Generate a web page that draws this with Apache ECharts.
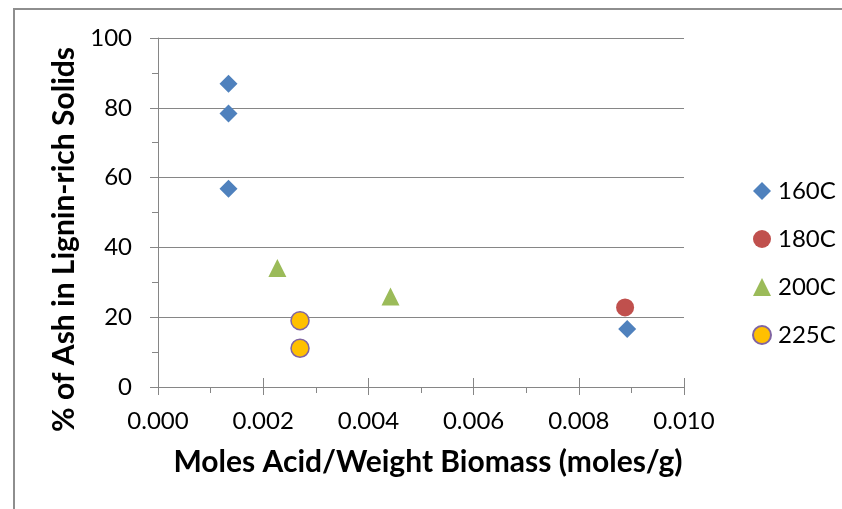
<!DOCTYPE html>
<html>
<head>
<meta charset="utf-8">
<script src="https://cdn.jsdelivr.net/npm/echarts@6/dist/echarts.min.js"></script>
<style>html,body{margin:0;padding:0;background:#fff;}#c{width:842px;height:509px;}</style>
</head>
<body>
<div id="c"></div>
<script>
const seriesNames = ['160C', '180C', '200C', '225C'];
const x160 = [0.00134, 0.00134, 0.00134, 0.00892];
const y160 = [86.9, 78.4, 56.8, 16.6];
const x180 = [0.00888];
const y180 = [22.8];
const x200 = [0.00227, 0.00442];
const y200 = [34.1, 25.9];
const x225 = [0.00270, 0.00270];
const y225 = [19.0, 11.1];
const xTitle = 'Moles Acid/Weight Biomass (moles/g)';
const yTitle = '% of Ash in Lignin-rich Solids';

const pairs = (xs, ys) => xs.map((v, i) => [v, ys[i]]);
const axisCol = '#868686';
const font = 'Lato';

const chart = echarts.init(document.getElementById('c'));
chart.setOption({
  animation: false,
  backgroundColor: '#fff',
  graphic: [{
    type: 'rect', silent: true, z: -1,
    shape: { x: 14, y: 9, width: 1000, height: 1000 },
    style: { fill: 'none', stroke: '#8e8e8e', lineWidth: 2 }
  }],
  grid: { left: 158, right: 158, top: 38, bottom: 122 },
  xAxis: [{
    type: 'value', min: 0, max: 0.01, interval: 0.002,
    axisLine: { show: true, lineStyle: { color: axisCol, width: 1 } },
    axisTick: { show: true, length: 8, lineStyle: { color: axisCol } },
    minorTick: { show: true, splitNumber: 2, length: 6, lineStyle: { color: axisCol } },
    splitLine: { show: false },
    axisLabel: { margin: 22, color: '#000', fontFamily: font, fontSize: 24, formatter: v => v.toFixed(3) },
    name: xTitle, nameLocation: 'middle', nameGap: 60,
    nameTextStyle: { color: '#000', fontFamily: font, fontWeight: 'bold', fontSize: 30, padding: [0, 0, 0, 14] }
  }, {
    type: 'value', min: 0, max: 0.01, interval: 0.002, position: 'bottom',
    axisLine: { show: false },
    axisTick: { show: true, inside: true, length: 9, lineStyle: { color: axisCol } },
    axisLabel: { show: false }, splitLine: { show: false }
  }],
  yAxis: {
    type: 'value', min: 0, max: 100, interval: 20,
    axisLine: { show: true, lineStyle: { color: axisCol, width: 1 } },
    axisTick: { show: true, length: 8, lineStyle: { color: axisCol } },
    minorTick: { show: true, splitNumber: 2, length: 6, lineStyle: { color: axisCol } },
    splitLine: { show: true, lineStyle: { color: axisCol, width: 1 } },
    axisLabel: { margin: 26, color: '#000', fontFamily: font, fontSize: 24 },
    name: yTitle, nameLocation: 'middle', nameGap: 79,
    nameTextStyle: { color: '#000', fontFamily: font, fontWeight: 'bold', fontSize: 30, padding: [0, 54, 0, 0] }
  },
  legend: {
    orient: 'vertical', left: 752, top: 179, itemGap: 24, padding: 0,
    itemWidth: 18, itemHeight: 18,
    textStyle: { color: '#000', fontFamily: font, fontSize: 24, padding: [0, 0, 0, 2] },
    data: seriesNames
  },
  series: [
    { name: seriesNames[0], type: 'scatter', symbol: 'diamond', symbolSize: 18,
      itemStyle: { color: '#4F81BD', opacity: 1 }, data: pairs(x160, y160) },
    { name: seriesNames[1], type: 'scatter', symbol: 'circle', symbolSize: 18,
      itemStyle: { color: '#C0504D', opacity: 1 }, data: pairs(x180, y180) },
    { name: seriesNames[2], type: 'scatter', symbol: 'triangle', symbolSize: 18,
      itemStyle: { color: '#9BBB59', opacity: 1 }, data: pairs(x200, y200) },
    { name: seriesNames[3], type: 'scatter', symbol: 'circle', symbolSize: 18,
      itemStyle: { color: '#FFC000', borderColor: '#8064A2', borderWidth: 1.5, opacity: 1 }, data: pairs(x225, y225) }
  ]
});
</script>
</body>
</html>
